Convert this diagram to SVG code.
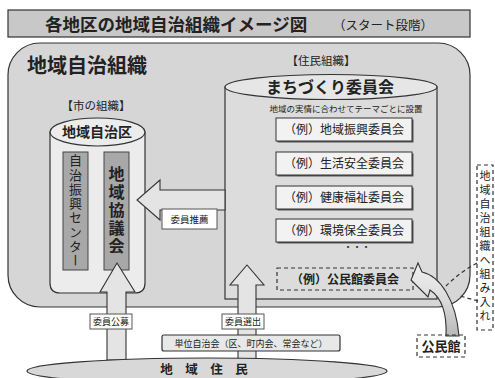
<svg xmlns="http://www.w3.org/2000/svg" width="495" height="378" viewBox="0 0 495 378">
<style>
text{font-family:"Noto Sans CJK JP","Noto Sans CJK SC",sans-serif;fill:#222}
.b{font-weight:bold}
.ln{stroke:#333;stroke-width:1.2}
.dash{stroke:#333;stroke-width:1.2;stroke-dasharray:4 3;fill:none}
.cm{fill:#f2f2f2;stroke:#333;stroke-width:1}
.sh{fill:#555}
.lbl{fill:#fff;stroke:#555;stroke-width:1}
.arr{fill:#e4e4e4;stroke:#333;stroke-width:1.1}
.c{text-anchor:middle}
.v{writing-mode:vertical-rl;text-anchor:middle}
</style>
<defs>
<linearGradient id="cg" x1="0" y1="0" x2="0" y2="1">
<stop offset="0" stop-color="#f0f0f0"/><stop offset="0.5" stop-color="#dcdcdc"/><stop offset="1" stop-color="#b8b8b8"/>
</linearGradient>
</defs>
<rect width="495" height="378" fill="#fff"/>

<g id="title">
<rect x="8" y="10" width="462" height="27" fill="#c8c8c8" class="ln"/>
<text x="45" y="31" class="b" font-size="17.5">各地区の地域自治組織イメージ図</text>
<text x="333" y="30" font-size="12.5">（スタート段階）</text>
</g>

<g id="area">
<rect x="8" y="43" width="462" height="264" rx="32" ry="32" fill="#d6d6d6" class="ln"/>
<text x="27" y="73" class="b" font-size="20">地域自治組織</text>
</g>

<g id="machizukuri">
<text x="321" y="65" class="c" font-size="11.5">【住民組織】</text>
<rect x="225" y="87" width="212" height="212" fill="#dcdcdc" class="ln"/>
<ellipse cx="331" cy="87" rx="106" ry="12.5" fill="#e6e6e6" class="ln"/>
<text x="330" y="93" class="c b" font-size="16">まちづくり委員会</text>
<text x="346" y="112" class="c" font-size="8.5">地域の実情に合わせてテーマごとに設置</text>
</g>

<g id="iinkai1"><rect x="277.5" y="119.5" width="136" height="23" class="sh"/><rect x="276" y="118" width="136" height="23" class="cm"/><text x="344" y="134" class="c" font-size="12">（例）地域振興委員会</text></g>
<g id="iinkai2"><rect x="277.5" y="153.5" width="136" height="23" class="sh"/><rect x="276" y="152" width="136" height="23" class="cm"/><text x="344" y="168" class="c" font-size="12">（例）生活安全委員会</text></g>
<g id="iinkai3"><rect x="277.5" y="187.5" width="136" height="23" class="sh"/><rect x="276" y="186" width="136" height="23" class="cm"/><text x="344" y="202" class="c" font-size="12">（例）健康福祉委員会</text></g>
<g id="iinkai4"><rect x="277.5" y="220.5" width="136" height="23" class="sh"/><rect x="276" y="219" width="136" height="23" class="cm"/><text x="344" y="235" class="c" font-size="12">（例）環境保全委員会</text></g>
<text x="357" y="250" class="c" font-size="9">・・・</text>
<g id="kominkan-iinkai">
<rect x="277" y="268" width="136" height="22" fill="#e8e8e8" class="dash"/>
<text x="345" y="283.5" class="c b" font-size="12">（例）公民館委員会</text>
</g>

<g id="jichiku">
<text x="96" y="110" class="c" font-size="11.5">【市の組織】</text>
<path d="M50,132 L50,283 Q50,293 60,293 L135,293 Q145,293 145,283 L145,132 Z" fill="#ececec" class="ln"/>
<ellipse cx="97.5" cy="132" rx="47.5" ry="14" fill="#ececec" class="ln"/>
<text x="97" y="137" class="c b" font-size="14">地域自治区</text>
</g>
<g id="center">
<rect x="63" y="152" width="25" height="118" fill="#a8a8a8" stroke="#444" stroke-width="1"/>
<text x="75.5" y="211" class="v" font-size="13" letter-spacing="1.3">自治振興センター</text>
</g>
<g id="kyogikai">
<rect x="104" y="152" width="25" height="118" fill="#a8a8a8" stroke="#444" stroke-width="1"/>
<text x="116.5" y="211" class="v b" font-size="16" letter-spacing="2">地域協議会</text>
</g>

<g id="connectors">
<polygon points="225,190 160,190 160,180 137,200 160,220 160,210 225,210" class="arr"/>
<polygon points="107,360 107,292 100,292 117,263 135,292 126,292 126,360" class="arr"/>
<polygon points="238,360 238,285 230,285 247,265 264,285 256,285 256,360" class="arr"/>
<path d="M446,336 C447,315 442,298 430,290 L428,297 L411,280 L418,263 L422,272 C440,276 456,300 459,336 Z" fill="url(#cg)" stroke="#333" stroke-width="1.1"/>
<path d="M477,263 Q460,272 446,286" class="dash"/>
<path d="M478,301 L460,296" class="dash"/>
</g>

<g id="label-suisen"><rect x="162" y="209" width="55" height="20" class="lbl"/><text x="189.5" y="222.5" class="c" font-size="9.5">委員推薦</text></g>
<g id="label-kobo"><rect x="90" y="314" width="42" height="15" class="lbl"/><text x="111" y="325" class="c" font-size="9">委員公募</text></g>
<g id="label-senshutsu"><rect x="222" y="314" width="42" height="15" class="lbl"/><text x="243" y="325" class="c" font-size="9">委員選出</text></g>

<g id="jichikai">
<rect x="162" y="335" width="178" height="16" rx="2" fill="#e8e8e8" class="ln"/>
<text x="251" y="346.5" class="c" font-size="9">単位自治会（区、町内会、常会など）</text>
</g>

<g id="jumin">
<ellipse cx="207" cy="371" rx="180" ry="13" fill="#d8d8d8" class="ln"/>
<text x="204" y="374" class="c b" font-size="12.5">地　域　住　民</text>
</g>

<g id="kominkan">
<rect x="417" y="335" width="48" height="22" fill="#fff" class="dash"/>
<text x="441" y="351" class="c b" font-size="13">公民館</text>
</g>

<g id="kumiire">
<rect x="477" y="165" width="16" height="165" fill="#fff" class="dash"/>
<text x="485" y="247.5" class="v" font-size="11" letter-spacing="3">地域自治組織へ組み入れ</text>
</g>
</svg>
